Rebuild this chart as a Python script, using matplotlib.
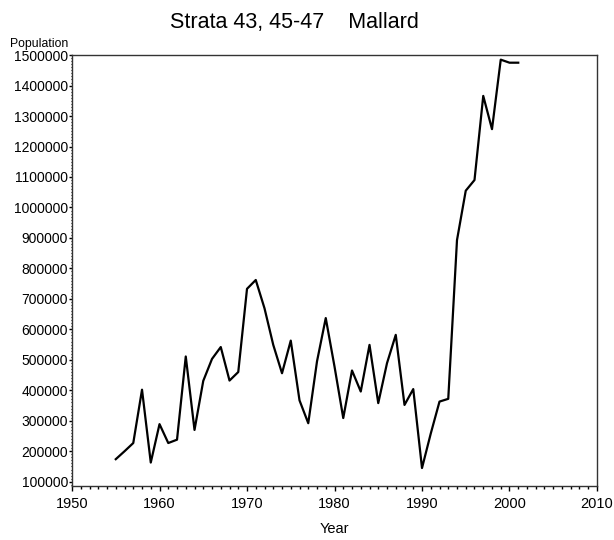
import matplotlib
matplotlib.use("Agg")
import matplotlib.pyplot as plt
from matplotlib.ticker import MultipleLocator

plt.rcParams['font.family'] = ['Liberation Sans', 'DejaVu Sans']

# Mallard population, strata 43, 45-47
years = list(range(1955, 2002))
population = [174000, 200000, 227000, 402000, 163000, 289000, 227000, 238000,
              511000, 270000, 431000, 503000, 542000, 432000, 460000, 733000,
              762000, 669000, 549000, 456000, 563000, 367000, 292000, 495000,
              637000, 478000, 309000, 465000, 396000, 549000, 358000, 489000,
              582000, 352000, 404000, 145000, 258000, 363000, 372000, 893000,
              1055000, 1090000, 1366000, 1257000, 1485000, 1475000, 1475000]

fig = plt.figure(figsize=(6.14, 5.4), dpi=100)
ax = fig.add_axes([0.1173, 0.1, 0.855, 0.798])

ax.plot(years, population, color='black', lw=1.6)

ax.set_xlim(1950, 2010)
ax.set_ylim(86000, 1500000)
ax.xaxis.set_major_locator(MultipleLocator(10))
ax.xaxis.set_minor_locator(MultipleLocator(1))
ax.yaxis.set_major_locator(MultipleLocator(100000))
ax.yaxis.set_minor_locator(MultipleLocator(10000))
ax.yaxis.set_major_formatter(lambda v, p: f"{int(v)}")

ax.tick_params(axis='x', which='major', direction='out', length=3.6, width=1,
               labelsize=10.5, pad=4)
ax.tick_params(axis='x', which='minor', direction='out', length=1.8, width=1)
ax.tick_params(axis='y', which='major', direction='out', length=2.2, width=1,
               labelsize=10, pad=0.6)
ax.tick_params(axis='y', which='minor', direction='out', length=1, width=0.8)
for s in ax.spines.values():
    s.set_linewidth(1)
    s.set_color('#333333')

ax.set_xlabel('Year', fontsize=10.5, labelpad=8)
fig.text(0.111, 0.908, 'Population', fontsize=8.8, ha='right', va='bottom')
fig.suptitle('Strata 43, 45-47    Mallard', fontsize=15.5, x=0.48, y=0.977, va='top')

fig.savefig('out.png', dpi=100)
